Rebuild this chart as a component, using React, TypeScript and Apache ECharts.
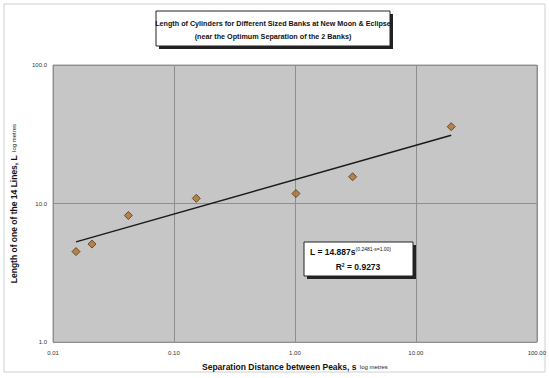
import React, { useEffect, useRef } from "react";
import * as echarts from "echarts";

const sepDistance = [0.0155, 0.021, 0.042, 0.153, 1.02, 3.0, 19.6];
const lineLength = [4.5, 5.1, 8.2, 10.9, 11.8, 15.6, 35.9];
const trendX = [0.0155, 19.6];
const trendY = [5.29, 31.1];
const xTickLabels: Record<string, string> = { "0.01": "0.01", "0.1": "0.10", "1": "1.00", "10": "10.00", "100": "100.00" };
const yTickLabels: Record<string, string> = { "1": "1.0", "10": "10.0", "100": "100.0" };

export default function App() {
  const ref = useRef<HTMLDivElement>(null);
  useEffect(() => {
    const chart = echarts.init(ref.current!, null, { renderer: "svg" });
    const font = "Liberation Sans, Arial, sans-serif";
    chart.setOption({
      animation: false,
      backgroundColor: "#ffffff",
      textStyle: { fontFamily: font },
      grid: { left: 50, right: 9, top: 65, bottom: 32, show: true, backgroundColor: "#c6c6c6", borderColor: "#9a9a9a", borderWidth: 1 },
      xAxis: {
        type: "log", logBase: 10, min: 0.01, max: 100,
        axisLine: { show: false },
        axisTick: { show: false },
        splitLine: { show: true, lineStyle: { color: "#8e8e8e", width: 1 } },
        axisLabel: { fontSize: 6, color: "#333", margin: 8, formatter: (v: number) => xTickLabels[String(+v.toPrecision(3))] ?? String(v) },
        name: "{b|Separation Distance between Peaks, s} {s|log metres}",
        nameLocation: "middle", nameGap: 18,
        nameTextStyle: { rich: { b: { fontSize: 8.5, fontWeight: "bold", color: "#111", fontFamily: font }, s: { fontSize: 6, color: "#222", fontFamily: font } } },
      },
      yAxis: {
        type: "log", logBase: 10, min: 1, max: 100,
        axisLine: { show: false },
        axisTick: { show: false },
        splitLine: { show: true, lineStyle: { color: "#8e8e8e", width: 1 } },
        axisLabel: { fontSize: 6, color: "#333", margin: 6, formatter: (v: number) => yTickLabels[String(+v.toPrecision(3))] ?? String(v) },
        name: "{b|Length of one of the 14 Lines, L} {s|log metres}",
        nameLocation: "middle", nameGap: 33, nameRotate: 90,
        nameTextStyle: { rich: { b: { fontSize: 8.5, fontWeight: "bold", color: "#111", fontFamily: font }, s: { fontSize: 6, color: "#222", fontFamily: font } } },
      },
      series: [
        {
          type: "line",
          data: trendX.map((x, i) => [x, trendY[i]]),
          symbol: "none",
          lineStyle: { color: "#1a1a1a", width: 1.5 },
          z: 2,
        },
        {
          type: "scatter",
          data: sepDistance.map((x, i) => [x, lineLength[i]]),
          symbol: "diamond",
          symbolSize: 8,
          itemStyle: { color: "#b0702a", borderColor: "#4a3812", borderWidth: 1 },
          z: 3,
        },
      ],
      graphic: [
        { type: "rect", shape: { x: 4, y: 4, width: 541, height: 368 }, style: { fill: "none", stroke: "#d0d0d0", lineWidth: 1 } },
        { type: "rect", shape: { x: 159, y: 14, width: 234, height: 35 }, style: { fill: "#222" } },
        { type: "rect", shape: { x: 156, y: 11, width: 234, height: 35 }, style: { fill: "#fff", stroke: "#222", lineWidth: 1 } },
        { type: "text", x: 273, y: 23, style: { text: "Length of Cylinders for Different Sized Banks at New Moon & Eclipse", fontSize: 7.2, fontWeight: "bold", fill: "#111", align: "center", verticalAlign: "middle", fontFamily: font } },
        { type: "text", x: 273, y: 36, style: { text: "(near the Optimum Separation of the 2 Banks)", fontSize: 7.2, fontWeight: "bold", fill: "#111", align: "center", verticalAlign: "middle", fontFamily: font } },
        { type: "rect", shape: { x: 307, y: 245, width: 109, height: 34 }, style: { fill: "#222" } },
        { type: "rect", shape: { x: 304, y: 242, width: 109, height: 34 }, style: { fill: "#fff", stroke: "#222", lineWidth: 1 } },
        { type: "text", x: 310, y: 252, style: { text: "{m|L = 14.887s}{e|(0.2481·s=1.00)}", verticalAlign: "middle", rich: { m: { fontSize: 8.5, fontWeight: "bold", fill: "#111", fontFamily: font }, e: { fontSize: 5, fill: "#111", fontFamily: font, padding: [0, 0, 6, 0] } } } },
        { type: "text", x: 358, y: 267, style: { text: "{m|R}{e|2}{m| = 0.9273}", align: "center", verticalAlign: "middle", rich: { m: { fontSize: 8.5, fontWeight: "bold", fill: "#111", fontFamily: font }, e: { fontSize: 5, fontWeight: "bold", fill: "#111", fontFamily: font, padding: [0, 0, 5, 0] } } } },
      ],
    });
    return () => chart.dispose();
  }, []);
  return <div ref={ref} style={{ width: 549, height: 378, position: "absolute", left: 0, top: 0 }} />;
}
